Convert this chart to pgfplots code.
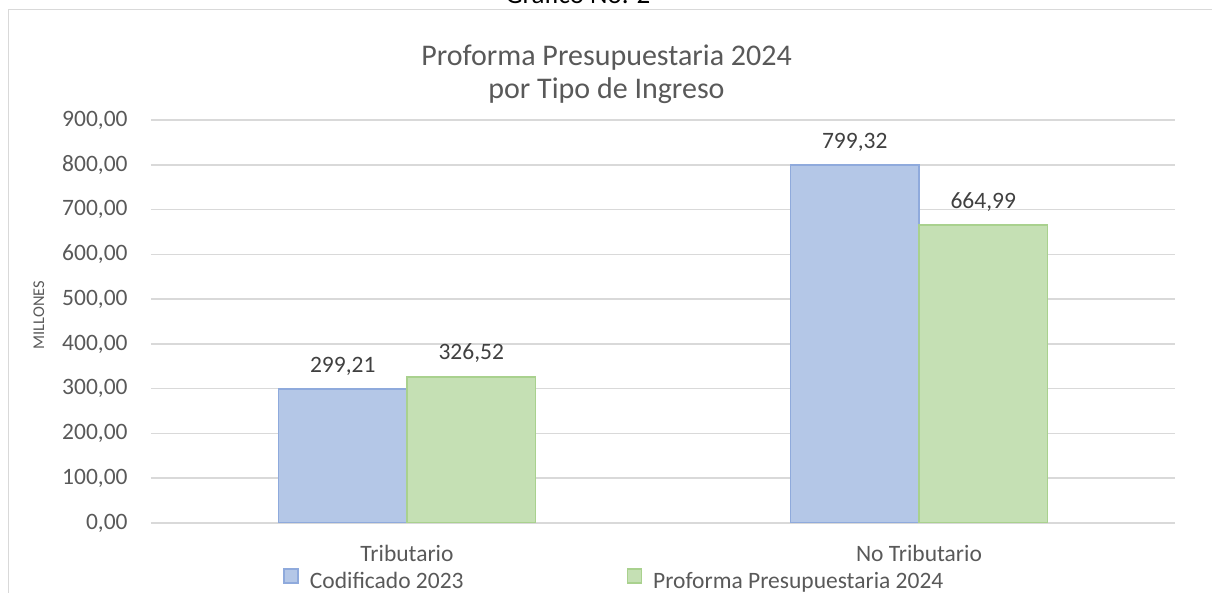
\documentclass[border=0pt]{standalone}
\usepackage{pgfplots}
\pgfplotsset{compat=1.18}
\usepackage{fontspec}
\setmainfont{Carlito}
\definecolor{barblue}{HTML}{B4C7E7}
\definecolor{edgeblue}{HTML}{8FAADC}
\definecolor{bargreen}{HTML}{C5E0B4}
\definecolor{edgegreen}{HTML}{A9D18E}
\definecolor{gridgray}{HTML}{D9D9D9}
\definecolor{txtgray}{HTML}{595959}
\definecolor{lblgray}{HTML}{404040}
\newcommand{\lblfont}{\fontsize{11.75}{14}\selectfont}
\begin{document}
\begin{tikzpicture}
\begin{axis}[
  at={(75.5pt,35pt)}, anchor=south west,
  scale only axis, width=512pt, height=201.5pt,
  ybar=0pt, bar width=64.25pt,
  xmin=-0.5, xmax=1.5, ymin=0, ymax=900,
  xtick={0,1}, xticklabels={Tributario,No Tributario},
  ytick={0,100,...,900},
  axis line style={draw=none}, tick style={draw=none},
  major tick length=0pt,
  ymajorgrids, grid style={gridgray, line width=0.75pt},
  /pgf/number format/fixed,
  /pgf/number format/fixed zerofill,
  /pgf/number format/precision=2,
  /pgf/number format/use comma,
  /pgf/number format/1000 sep={},
  /pgf/number format/assume math mode=true,
  yticklabel style={font=\lblfont, text=txtgray, anchor=east, inner sep=0pt, xshift=-11.5pt},
  xticklabel style={font=\lblfont, text=txtgray, anchor=base, inner sep=0pt, yshift=-19.5pt},
  ylabel={MILLONES},
  every axis y label/.style={at={(axis description cs:-0.1094,0.516)}, rotate=90, anchor=center, font=\fontsize{8.2}{10}\selectfont, text=txtgray},
  nodes near coords,
  every node near coord/.append style={font=\lblfont, text=lblgray, anchor=base, inner sep=0pt, yshift=8.5pt},
  legend columns=2,
  legend image code/.code={\draw[#1, line width=0.75pt] (0pt,-1.25pt) rectangle (7pt,5.75pt);},
  legend style={at={(0.1289,-0.1372)}, anchor=west, draw=none, fill=none, inner sep=0pt,
    font=\lblfont, text=txtgray, column sep=5.5pt,
    /tikz/every even column/.append style={column sep=81.5pt},
    nodes={inner sep=0pt, text depth=0pt}},
]
\addplot[fill=barblue, draw=edgeblue, line width=0.75pt] coordinates {(0,299.21) (1,799.32)};
\addplot[fill=bargreen, draw=edgegreen, line width=0.75pt] coordinates {(0,326.52) (1,664.99)};
\legend{Codificado 2023, Proforma Presupuestaria 2024}
\end{axis}
\draw[gridgray, line width=0.75pt] (4.25pt,-1pt) -- (4.25pt,291.75pt) -- (607pt,291.75pt);
\node[anchor=base, font=\fontsize{15}{18}\selectfont, text=txtgray] at (303.25pt,263.5pt) {Proforma Presupuestaria 2024};
\node[anchor=base, font=\fontsize{15}{18}\selectfont, text=txtgray] at (303.25pt,247pt) {por Tipo de Ingreso};
\node[anchor=base, font=\fontsize{13.5}{16}\selectfont, text=black] at (289pt,294.8pt) {Gráfico No. 2};
\pgfresetboundingbox
\useasboundingbox (0,0) rectangle (606pt,296.5pt);
\end{tikzpicture}
\end{document}
